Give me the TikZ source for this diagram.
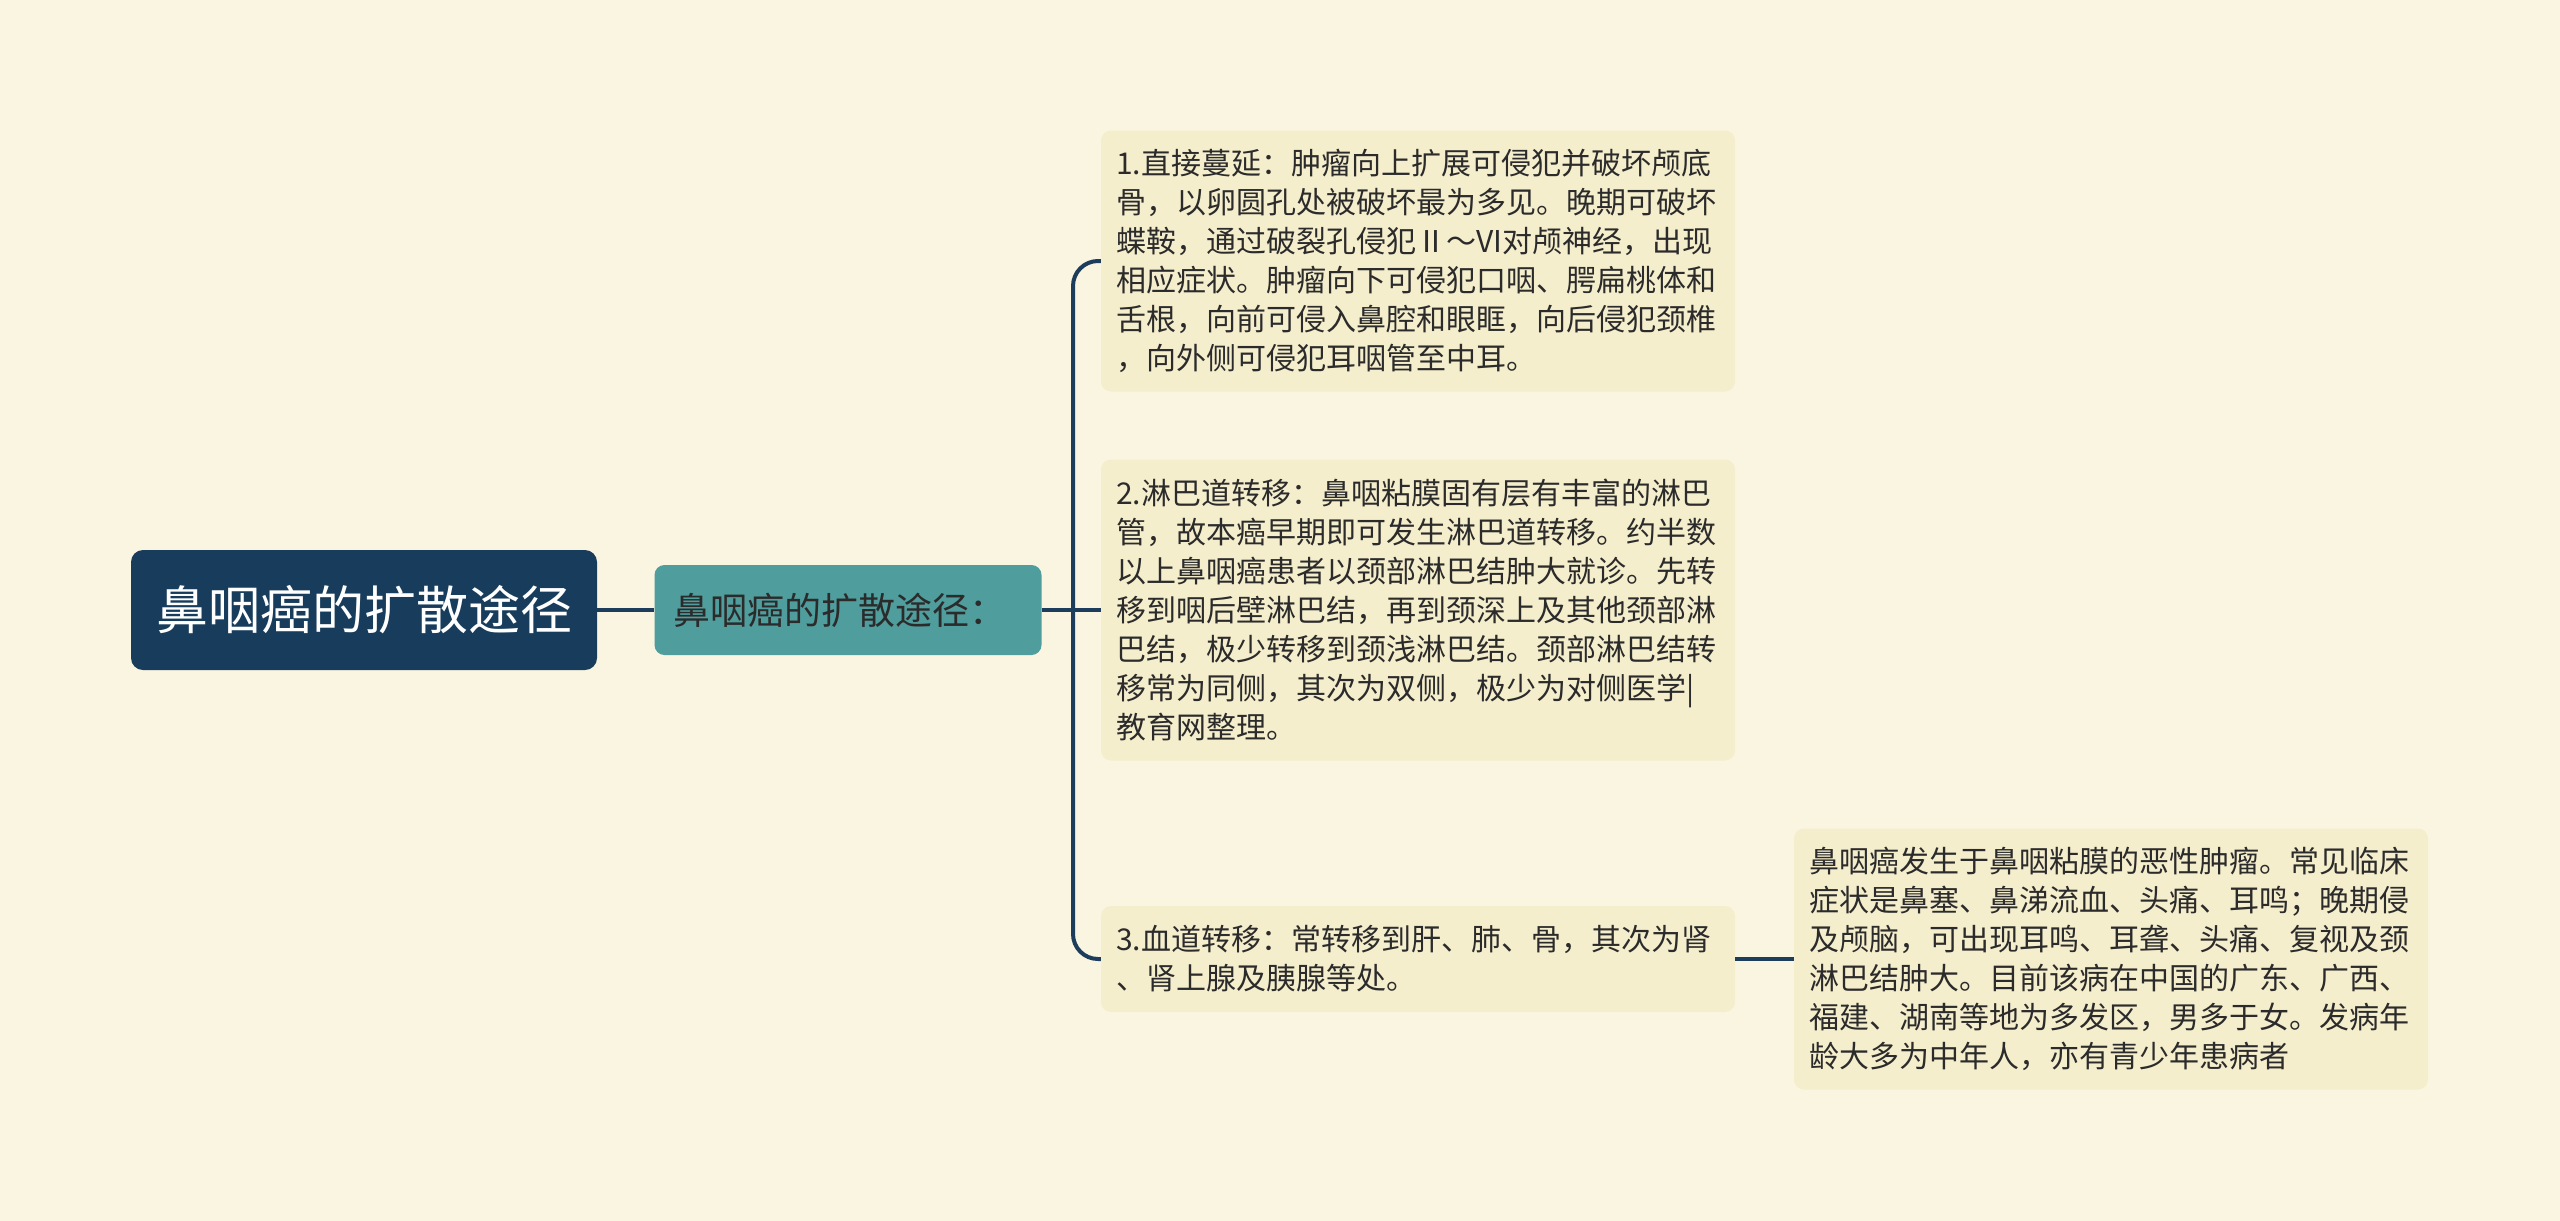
\documentclass[tikz,border=0pt]{standalone}
\usepackage{fontspec}
\setmainfont{Noto Sans CJK SC}
\definecolor{bgcream}{HTML}{FAF5E1}
\definecolor{leafcream}{HTML}{F5EECD}
\definecolor{rootnavy}{HTML}{173C5C}
\definecolor{topicteal}{HTML}{4F9D9D}
\definecolor{linknavy}{HTML}{1C3D5C}
\definecolor{inkgray}{HTML}{2B2B2B}

\begin{document}
\begin{tikzpicture}[x=1pt, y=-1pt,
  rootbox/.style = {fill=rootnavy, text=white, rounded corners=12pt, minimum width=466pt, minimum height=120pt, inner sep=0pt, font=\fontsize{52}{60}\selectfont},
  topicbox/.style = {fill=topicteal, text=inkgray, rounded corners=10pt, minimum width=387pt, minimum height=90pt, inner xsep=19pt, inner ysep=0pt, text width=349pt, align=left, font=\fontsize{37}{44}\selectfont},
  leafbox/.style = {fill=leafcream, text=inkgray, rounded corners=10pt, inner xsep=15pt, inner ysep=0pt, text width=604pt, align=left, font=\fontsize{30}{39}\selectfont},
  link/.style = {draw=linknavy, line width=4pt, rounded corners=25pt}]
\useasboundingbox (0,0) rectangle (2560,1221);
\fill[bgcream] (0,0) rectangle (2560,1221);

\node[rootbox] (root) at (364,610) {鼻咽癌的扩散途径};
\node[topicbox] (topic) at (848,610) {鼻咽癌的扩散途径：};
\node[leafbox, minimum height=261pt] (direct) at (1418,261) {1.直接蔓延：肿瘤向上扩展可侵犯并破坏颅底\\骨，以卵圆孔处被破坏最为多见。晚期可破坏\\蝶鞍，通过破裂孔侵犯Ⅱ～VI对颅神经，出现\\相应症状。肿瘤向下可侵犯口咽、腭扁桃体和\\舌根，向前可侵入鼻腔和眼眶，向后侵犯颈椎\\，向外侧可侵犯耳咽管至中耳。};
\node[leafbox, minimum height=301pt] (lymph) at (1418,610) {2.淋巴道转移：鼻咽粘膜固有层有丰富的淋巴\\管，故本癌早期即可发生淋巴道转移。约半数\\以上鼻咽癌患者以颈部淋巴结肿大就诊。先转\\移到咽后壁淋巴结，再到颈深上及其他颈部淋\\巴结，极少转移到颈浅淋巴结。颈部淋巴结转\\移常为同侧，其次为双侧，极少为对侧医学|\\教育网整理。};
\node[leafbox, minimum height=106pt] (blood) at (1418,959) {3.血道转移：常转移到肝、肺、骨，其次为肾\\、肾上腺及胰腺等处。};
\node[leafbox, minimum height=261pt] (summary) at (2111,959) {鼻咽癌发生于鼻咽粘膜的恶性肿瘤。常见临床\\症状是鼻塞、鼻涕流血、头痛、耳鸣；晚期侵\\及颅脑，可出现耳鸣、耳聋、头痛、复视及颈\\淋巴结肿大。目前该病在中国的广东、广西、\\福建、湖南等地为多发区，男多于女。发病年\\龄大多为中年人，亦有青少年患病者};

\coordinate (fork) at (1073,610);
\draw[link] (root) -- (topic);
\draw[link] (topic) -- (fork);
\draw[link] (fork) -- (lymph);
\draw[link] (fork) |- (direct.west);
\draw[link] (fork) |- (blood.west);
\draw[link] (blood) -- (summary);
\end{tikzpicture}
\end{document}
